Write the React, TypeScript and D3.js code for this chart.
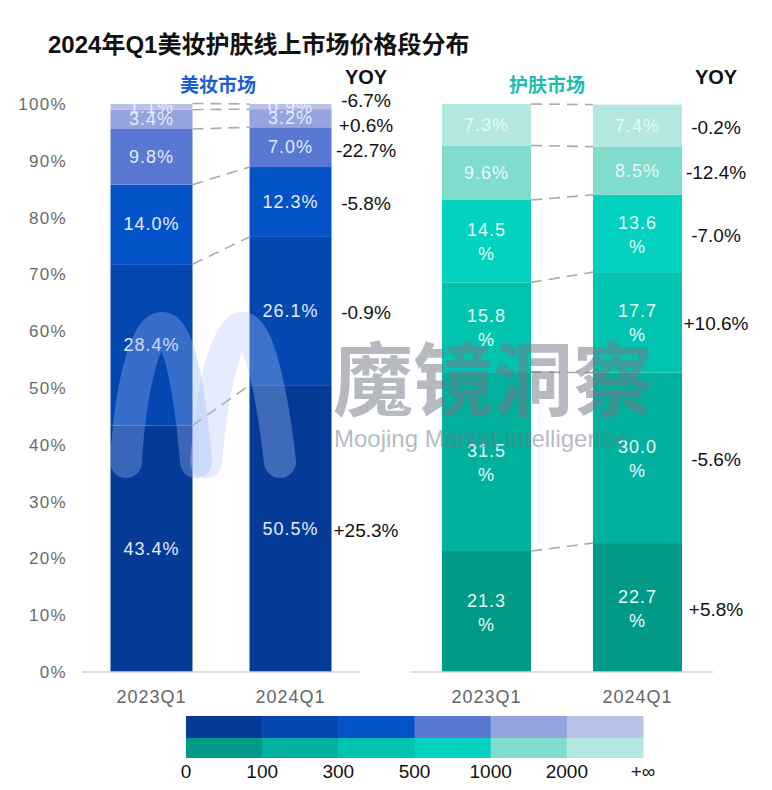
import React from 'react';
import * as d3 from 'd3';

// 价格段 & 时间
const periods = ['2023Q1', '2024Q1'];
const priceBreaks = ['0', '100', '300', '500', '1000', '2000', '+∞'];
const percentTicks = [0, 10, 20, 30, 40, 50, 60, 70, 80, 90, 100];

// 美妆市场 各价格段占比 (从低价到高价)
const makeup2023 = [43.4, 28.4, 14.0, 9.8, 3.4, 1.1];
const makeup2024 = [50.5, 26.1, 12.3, 7.0, 3.2, 0.9];
const makeupYoy = ['+25.3%', '-0.9%', '-5.8%', '-22.7%', '+0.6%', '-6.7%'];

// 护肤市场
const skincare2023 = [21.3, 31.5, 15.8, 14.5, 9.6, 7.3];
const skincare2024 = [22.7, 30.0, 17.7, 13.6, 8.5, 7.4];
const skincareYoy = ['+5.8%', '-5.6%', '+10.6%', '-7.0%', '-12.4%', '-0.2%'];

const makeupColors = ['#053a97', '#0447b1', '#0352c8', '#5878d4', '#95a3df', '#b9c1e7'];
const skincareColors = ['#019a89', '#02b09e', '#01c4b0', '#03d2c0', '#80dccc', '#b2e8df'];

const FONT = '"Liberation Sans", "Noto Sans CJK SC", sans-serif';
const CJK = '"Noto Sans CJK SC", sans-serif';

const W = 772;
const H = 790;
const y = d3.scaleLinear().domain([0, 100]).range([672, 104]);

interface PanelProps {
    range: [number, number];
    series: number[][];
    yoy: string[];
    colors: string[];
    title: string;
    titleColor: string;
    titleX: number;
    yoyX: number;
    wrap: boolean;
    labelColor: string;
    clipId: string;
}

// 避免 YOY 标签互相重叠
const spread = (targets: number[], gap: number) => {
    const order = targets.map((t, i) => ({ t, i })).sort((a, b) => a.t - b.t);
    let groups: { items: typeof order; pos: number }[] = [];
    order.forEach(o => {
        groups.push({ items: [o], pos: o.t });
        let merged = true;
        while (merged && groups.length > 1) {
            merged = false;
            const b = groups[groups.length - 1];
            const a = groups[groups.length - 2];
            const aEnd = a.pos + (a.items.length - 1) * gap;
            if (b.pos - aEnd < gap) {
                const items = a.items.concat(b.items);
                const mean = d3.mean(items, d => d.t)!;
                groups.splice(groups.length - 2, 2, { items, pos: mean - (items.length - 1) * gap / 2 });
                merged = true;
            }
        }
    });
    const out: number[] = [];
    groups.forEach(g => g.items.forEach((it, k) => { out[it.i] = g.pos + k * gap; }));
    return out;
};

const Panel: React.FC<PanelProps> = ({ range, series, yoy, colors, title, titleColor, titleX, yoyX, wrap, labelColor, clipId }) => {
    const x = d3.scaleBand().domain(periods).range(range).paddingInner(0.41).paddingOuter(0.205);
    const bw = x.bandwidth();
    const keys = colors.map((_, j) => `b${j}`);
    const rows = periods.map((p, i) => {
        const r: any = { period: p };
        keys.forEach((k, j) => { r[k] = series[i][j]; });
        return r;
    });
    const stacked = d3.stack<any>().keys(keys)(rows);
    const yoyPos = spread(stacked.map(layer => (y(layer[1][0]) + y(layer[1][1])) / 2), 25);

    return (
        <g>
            <text x={titleX} y={92} textAnchor="middle" fontFamily={CJK} fontWeight={700}
                fontSize={19} fill={titleColor}>{title}</text>
            <text x={yoyX} y={84} textAnchor="middle" fontFamily={FONT} fontWeight={600}
                fontSize={20} fill="#111">YOY</text>
            <g clipPath={`url(#${clipId})`}>
                {stacked.map((layer, j) => layer.map((d, i) => (
                    <rect key={`${j}-${i}`} x={x(periods[i])} y={y(d[1])} width={bw}
                        height={y(d[0]) - y(d[1])} fill={colors[j]} />
                )))}
            </g>
            {stacked.map((layer, j) => (
                <line key={`c${j}`} x1={x(periods[0])! + bw} y1={y(layer[0][1])}
                    x2={x(periods[1])} y2={y(layer[1][1])}
                    stroke="#aaaaaa" strokeWidth={1.6} strokeDasharray="11,7" />
            ))}
            <line x1={range[0]} x2={range[1]} y1={y(0)} y2={y(0)} stroke="#d3d3d3" strokeWidth={1.5} />
            {periods.map(p => (
                <text key={p} x={x(p)! + bw / 2} y={703} textAnchor="middle" fontFamily={FONT}
                    fontSize={18} letterSpacing={1} fill="#666">{p}</text>
            ))}
            <g clipPath={`url(#${clipId})`}>
                {stacked.map((layer, j) => layer.map((d, i) => {
                    const v = series[i][j];
                    const cx = x(periods[i])! + bw / 2;
                    const cy = (y(d[0]) + y(d[1])) / 2;
                    const txt = v.toFixed(1);
                    if (wrap && v >= 10) {
                        return (
                            <text key={`l${j}-${i}`} x={cx} textAnchor="middle" fontFamily={FONT}
                                fontSize={18} letterSpacing={1} fill={labelColor}>
                                <tspan x={cx} y={cy - 5}>{txt}</tspan>
                                <tspan x={cx} y={cy + 19}>%</tspan>
                            </text>
                        );
                    }
                    return (
                        <text key={`l${j}-${i}`} x={cx} y={cy + 6} textAnchor="middle" fontFamily={FONT}
                            fontSize={18} letterSpacing={1} fill={labelColor}>{txt}%</text>
                    );
                }))}
            </g>
            {yoy.map((t, j) => (
                <text key={`y${j}`} x={yoyX} y={yoyPos[j] + 8} textAnchor="middle" fontFamily={FONT}
                    fontSize={19} fill="#111">{t}</text>
            ))}
        </g>
    );
};

const Legend: React.FC = () => {
    const lx = d3.scalePoint().domain(priceBreaks).range([186, 643]);
    const cells = priceBreaks.slice(0, -1).map((b, i) => ({ x0: lx(b)!, x1: lx(priceBreaks[i + 1])! }));
    return (
        <g>
            {cells.map((c, i) => (
                <rect key={`m${i}`} x={c.x0} y={716} width={c.x1 - c.x0 + 0.5} height={22} fill={makeupColors[i]} />
            ))}
            {cells.map((c, i) => (
                <rect key={`s${i}`} x={c.x0} y={738} width={c.x1 - c.x0 + 0.5} height={20} fill={skincareColors[i]} />
            ))}
            {priceBreaks.map(b => (
                <text key={b} x={lx(b)} y={778} textAnchor="middle" fontFamily={FONT} fontSize={19}
                    fill="#111">{b}</text>
            ))}
        </g>
    );
};

const Watermark: React.FC = () => (
    <g pointerEvents="none">
        <path d="M126,462 C130,390 145,328 162,328 C179,328 190,390 196,462" fill="none"
            stroke="rgba(150,180,245,0.36)" strokeWidth={32} strokeLinecap="round" />
        <path d="M206,462 C212,390 226,328 242,328 C258,328 272,390 280,462" fill="none"
            stroke="rgba(175,198,248,0.34)" strokeWidth={32} strokeLinecap="round" />
        <text x={333} y={409} fontFamily={CJK} fontWeight={600} fontSize={80}
            fill="rgb(115,120,135)" fillOpacity={0.52}>魔镜洞察</text>
        <text x={334} y={447} fontFamily={FONT} fontSize={24}
            fill="rgb(115,120,135)" fillOpacity={0.52}>Moojing Market Intelligence</text>
    </g>
);

const App: React.FC = () => {
    return (
        <svg width={W} height={H} style={{ position: 'absolute', left: 0, top: 0, background: '#fff' }}>
            <defs>
                <clipPath id="clipL"><rect x={0} y={y(100)} width={W} height={y(0) - y(100)} /></clipPath>
                <clipPath id="clipR"><rect x={0} y={y(100)} width={W} height={y(0) - y(100)} /></clipPath>
            </defs>
            <text x={48} y={53} fontFamily={FONT} fontWeight={700} fontSize={24} fill="#111">
                2024年Q1美妆护肤线上市场价格段分布
            </text>
            {percentTicks.map(t => (
                <text key={t} x={67} y={y(t) + 6} textAnchor="end" fontFamily={FONT} fontSize={17}
                    letterSpacing={1.3} fill="#6a6a6a">{t}%</text>
            ))}
            <Panel range={[82, 360]} series={[makeup2023, makeup2024]} yoy={makeupYoy}
                colors={makeupColors} title="美妆市场" titleColor="#1a5fd2" titleX={218} yoyX={366}
                wrap={false} labelColor="#e3ecff" clipId="clipL" />
            <Panel range={[411, 713]} series={[skincare2023, skincare2024]} yoy={skincareYoy}
                colors={skincareColors} title="护肤市场" titleColor="#1fbcab" titleX={547} yoyX={716}
                wrap={true} labelColor="#e6fbf6" clipId="clipR" />
            <Watermark />
            <Legend />
        </svg>
    );
};

export default App;
